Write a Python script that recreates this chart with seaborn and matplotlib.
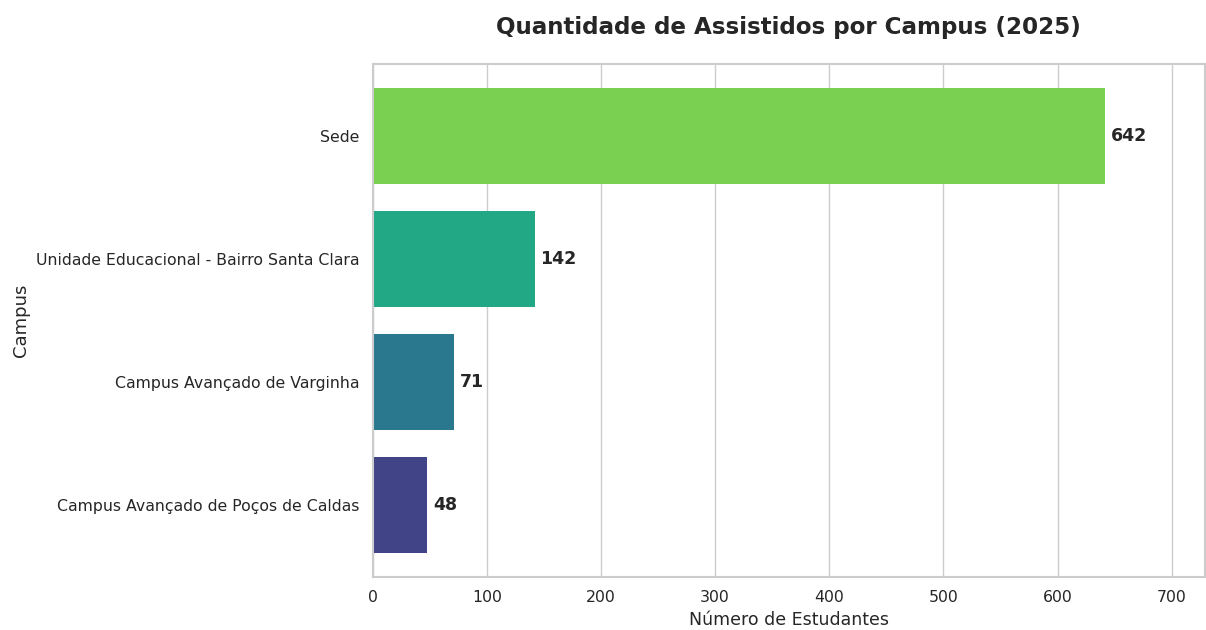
import matplotlib
matplotlib.use("Agg")
import matplotlib.pyplot as plt
import seaborn as sns
import pandas as pd

campi = ["Sede",
         "Unidade Educacional - Bairro Santa Clara",
         "Campus Avançado de Varginha",
         "Campus Avançado de Poços de Caldas"]
assistidos = [642, 142, 71, 48]

def main():
    sns.set_theme(style="whitegrid")
    plt.rcParams['font.family'] = ['DejaVu Sans']

    df = pd.DataFrame({"Campus": campi, "Estudantes": assistidos})

    fig = plt.figure(figsize=(12.06, 6.3), dpi=100)
    ax = fig.add_axes([0.309, 0.084, 0.69, 0.814])
    sns.barplot(data=df, y="Campus", x="Estudantes", hue="Campus",
                palette="viridis_r", legend=False, width=0.78,
                saturation=1, linewidth=0, ax=ax)

    for i, v in enumerate(assistidos):
        ax.text(v + 5, i, str(v), va="center", ha="left",
                fontsize=12.5, fontweight="bold", color="#262626")

    ax.set_xlim(0, 729)
    ax.set_ylim(3.585, -0.585)
    ax.set_title("Quantidade de Assistidos por Campus (2025)",
                 fontsize=16.6, fontweight="bold", pad=22, color="#262626")
    ax.set_xlabel("Número de Estudantes", fontsize=12.5)
    ax.set_ylabel("Campus", fontsize=13)
    ax.tick_params(axis="both", labelsize=11.3)
    for s in ax.spines.values():
        s.set_color("#cccccc")
        s.set_linewidth(1.5)

    fig.savefig("out.png", dpi=100)

if __name__ == '__main__':
    main()
